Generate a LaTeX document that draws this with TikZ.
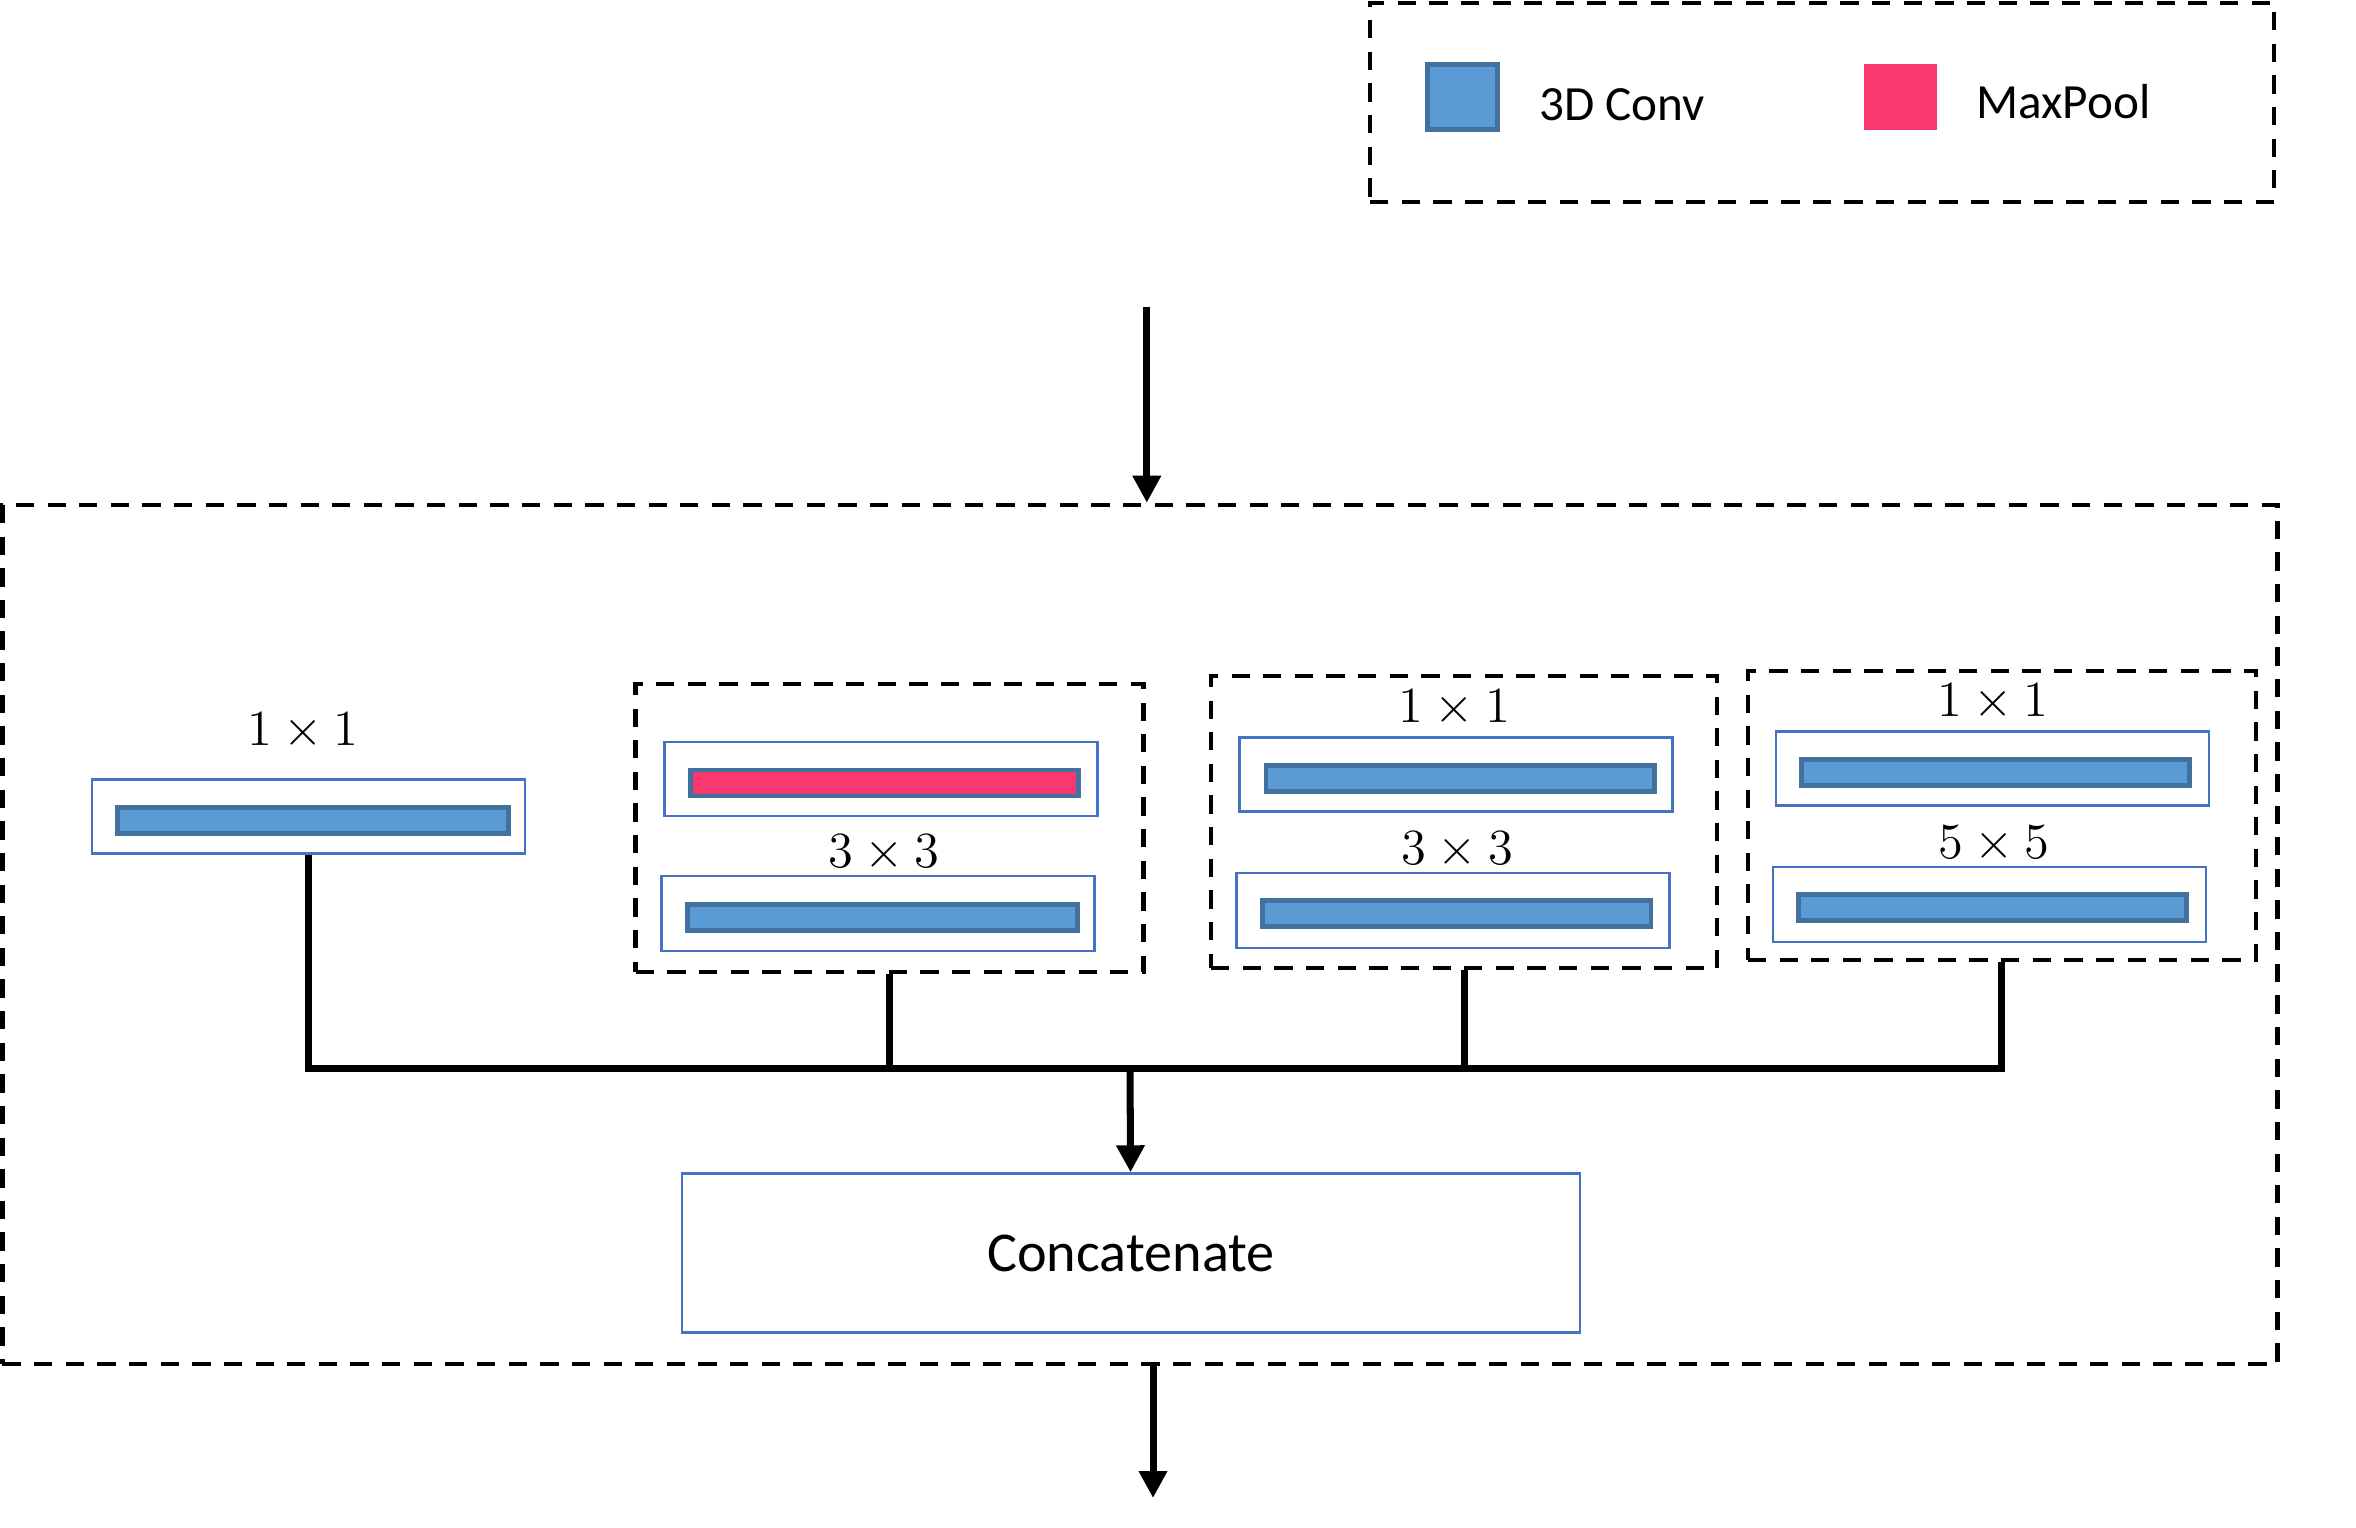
\documentclass[tikz,border=0pt]{standalone}
\usepackage{fontspec}
\usepackage{amsmath}
\usetikzlibrary{arrows.meta,positioning,fit}
\newfontfamily\calibri{Carlito}
\definecolor{boxblue}{HTML}{4472C4}
\definecolor{convfill}{HTML}{5B9BD5}
\definecolor{convline}{HTML}{41719C}
\definecolor{poolfill}{HTML}{F9386F}

\begin{document}
\begin{tikzpicture}[
      frame/.style={rectangle, draw, line width=1.3pt, dash pattern=on 5.2pt off 3.8pt, inner sep=0pt},
      unit/.style={rectangle, draw=boxblue, line width=0.75pt, minimum width=4.33cm, minimum height=0.74cm, inner sep=0pt},
      conv/.style={rectangle, draw=convline, fill=convfill, line width=1.4pt, minimum width=3.885cm, minimum height=0.26cm, inner sep=0pt},
      pool/.style={conv, fill=poolfill},
      size/.style={font=\fontsize{14}{16}\selectfont},
      word/.style={font=\calibri\fontsize{16}{19}\selectfont},
      key/.style={font=\calibri\fontsize{14}{17}\selectfont, anchor=west},
      conn/.style={line width=2pt},
      flow/.style={line width=2pt, -{Triangle[length=2.7mm,width=2.7mm]}}]
      \useasboundingbox (0,0) rectangle (23.56,-15.27);
      % legend
      \node[frame, minimum width=9.04cm, minimum height=1.99cm] at (18.22,-1.023) (legend) {};
      \node[rectangle, draw=convline, fill=convfill, line width=1.4pt, minimum width=0.70cm, minimum height=0.65cm] at (14.626,-0.969) (lconv) {};
      \node[key] at (15.27,-1.048) (lconvt) {3D Conv};
      \node[rectangle, fill=poolfill, minimum width=0.73cm, minimum height=0.66cm] at (19.00,-0.974) (lpool) {};
      \node[key] at (19.64,-1.018) (lpoolt) {MaxPool};
      % module
      \node[frame, minimum width=22.75cm, minimum height=8.59cm] at (11.40,-9.345) (module) {};
      \node[size] at (3.03,-7.316) (s1) {$1\times1$};
      \node[unit] at (3.084,-8.166) (u1) {};
      \node[conv, minimum width=3.905cm] at (3.129,-8.205) (c1) {};
      \node[frame, minimum width=5.08cm, minimum height=2.88cm] at (8.897,-8.280) (g2) {};
      \node[unit] at (8.808,-7.790) (u2a) {};
      \node[pool] at (8.843,-7.830) (p2) {};
      \node[size] at (8.838,-8.532) (s2) {$3\times3$};
      \node[unit, minimum height=0.75cm] at (8.779,-9.135) (u2b) {};
      \node[conv, minimum width=3.905cm] at (8.823,-9.179) (c2) {};
      \node[frame, minimum width=5.06cm, minimum height=2.92cm] at (14.641,-8.220) (g3) {};
      \node[size] at (14.542,-7.078) (s3a) {$1\times1$};
      \node[unit] at (14.562,-7.746) (u3a) {};
      \node[conv] at (14.602,-7.785) (c3a) {};
      \node[size] at (14.572,-8.502) (s3b) {$3\times3$};
      \node[unit, minimum height=0.75cm] at (14.532,-9.105) (u3b) {};
      \node[conv] at (14.567,-9.135) (c3b) {};
      \node[frame, minimum width=5.08cm, minimum height=2.89cm] at (20.019,-8.156) (g4) {};
      \node[size] at (19.930,-7.019) (s4a) {$1\times1$};
      \node[unit] at (19.925,-7.686) (u4a) {};
      \node[conv] at (19.955,-7.726) (c4a) {};
      \node[size] at (19.940,-8.443) (s4b) {$5\times5$};
      \node[unit, minimum height=0.75cm] at (19.896,-9.046) (u4b) {};
      \node[conv] at (19.925,-9.075) (c4b) {};
      \node[rectangle, draw=boxblue, line width=0.75pt, minimum width=8.98cm, minimum height=1.59cm, word] at (11.310,-12.531) (concat) {Concatenate};
      \coordinate (bus) at (11.300,-10.687);
      \coordinate (in) at (11.468,-3.07);
      \coordinate (out) at (11.53,-14.98);
      \draw[conn] (u1.south) |- (bus);
      \draw[conn] (g2.south) |- (bus);
      \draw[conn] (g3.south) |- (bus);
      \draw[conn] (g4.south) |- (bus);
      \draw[flow] (bus) -- (concat);
      \draw[flow] (in) -- (in |- module.north);
      \draw[flow] (out |- module.south) -- (out);
\end{tikzpicture}
\end{document}
